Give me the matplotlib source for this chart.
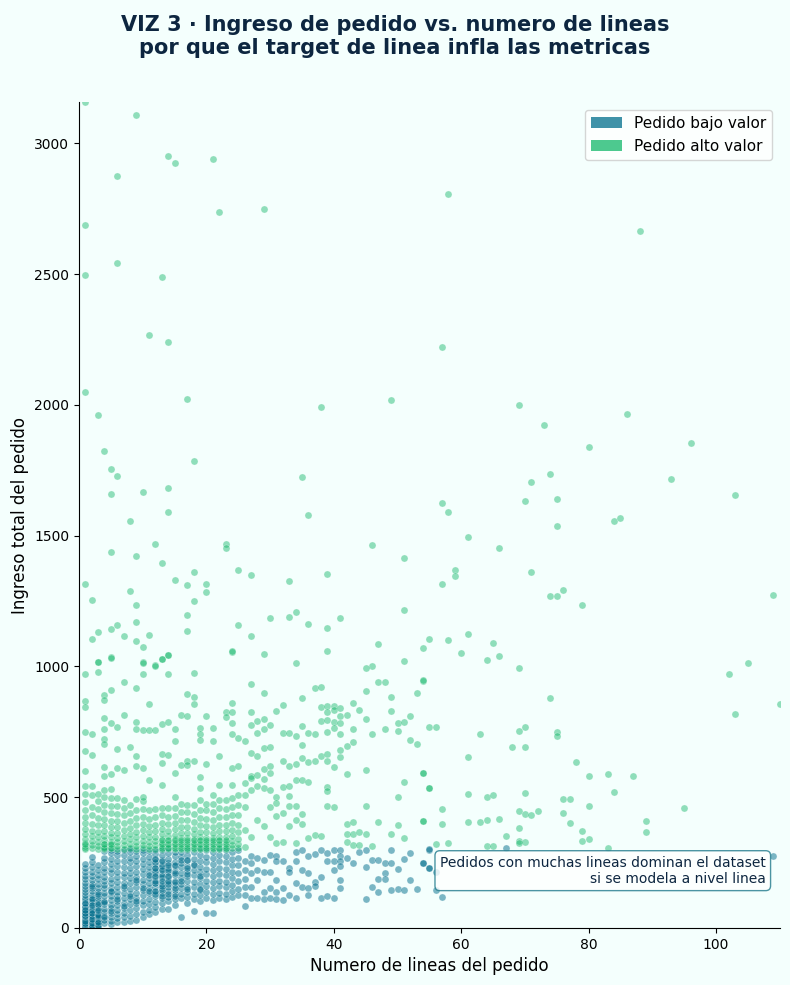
import numpy as np
import matplotlib.pyplot as plt
from matplotlib.patches import Patch

# pedidos de bajo valor: columnas densas (x = numero de lineas)
low_cols = list(range(1, 26))
low_vals = [
    [4, 8, 12, 16, 20, 25, 30, 35, 40, 46, 52, 58, 65, 72, 80, 88, 96, 105, 115, 125, 136, 148, 160, 172, 186, 200, 215, 230, 245, 10, 22, 33, 48, 62, 78, 95, 3, 6, 14, 18, 27, 44, 56, 68],
    [5, 9, 14, 19, 24, 30, 36, 43, 50, 58, 66, 75, 84, 94, 104, 115, 127, 140, 153, 167, 182, 198, 214, 232, 252, 272, 12, 28, 45, 70, 110, 160, 3, 7, 17, 33, 55, 88],
    [8, 14, 20, 27, 35, 44, 54, 64, 75, 86, 98, 110, 123, 137, 152, 168, 185, 203, 222, 242, 18, 40, 90, 130, 5, 11, 24, 50, 70],
    [18, 30, 45, 61, 74, 92, 104, 121, 133, 152, 163, 181, 195, 214, 228, 251, 268, 293, 40, 100],
    [14, 28, 43, 57, 75, 88, 107, 121, 139, 154, 173, 188, 209, 225, 246, 263, 286, 299, 65, 142],
    [21, 36, 53, 67, 86, 101, 121, 137, 157, 174, 195, 213, 235, 254, 277, 295, 112],
    [24, 41, 57, 77, 94, 115, 132, 153, 171, 193, 211, 234, 254, 279, 297, 82, 161],
    [26, 46, 69, 91, 109, 131, 149, 171, 189, 211, 229, 251, 269, 291, 300, 122],
    [31, 54, 76, 94, 116, 134, 156, 174, 196, 214, 236, 254, 276, 294, 101, 182],
    [42, 61, 86, 104, 126, 144, 166, 184, 206, 224, 246, 264, 286, 299, 151],
    [52, 69, 93, 111, 133, 151, 173, 191, 213, 231, 253, 271, 293, 141, 201],
    [61, 81, 99, 121, 137, 157, 173, 193, 209, 229, 245, 265, 281, 298, 131, 171, 216, 251, 140, 180, 200, 230, 265],
    [72, 94, 116, 133, 153, 169, 189, 205, 225, 241, 261, 277, 296, 146, 199, 236, 120, 160, 180, 220, 255],
    [74, 101, 119, 141, 157, 177, 193, 213, 229, 249, 265, 285, 300, 166, 221, 130, 180, 200, 240],
    [86, 109, 129, 145, 165, 181, 201, 217, 237, 253, 273, 289, 151, 241, 120, 175, 210],
    [43, 113, 129, 151, 169, 191, 209, 231, 249, 271, 289, 181, 259],
    [96, 117, 139, 157, 179, 197, 219, 237, 259, 277, 298, 206, 150, 230, 260],
    [63, 111, 131, 156, 177, 201, 221, 245, 265, 289, 239],
    [104, 126, 144, 169, 189, 213, 233, 257, 277, 300, 150, 200],
    [58, 116, 137, 161, 181, 206, 227, 251, 271, 296],
    [56, 107, 131, 151, 176, 197, 221, 244, 269, 291],
    [113, 134, 159, 179, 206, 229, 256, 279, 300],
    [111, 129, 156, 177, 203, 225, 251, 274, 298],
    [117, 141, 164, 191, 214, 241, 264, 291],
    [126, 149, 181, 209, 241, 269, 296],
]

# pedidos de bajo valor con muchas lineas
low_far_x = [26, 26, 26, 26, 26, 26, 27, 27, 27, 27, 27, 28, 28, 28, 28, 29, 29, 29, 29,
             30, 30, 30, 30, 31, 31, 31, 31, 31, 32, 32, 32, 33, 33, 33, 34, 34, 34, 34,
             35, 35, 35, 36, 36, 36, 36, 37, 37, 37, 38, 38, 38, 39, 39, 39, 40, 40, 40, 40,
             41, 41, 41, 41, 41, 41, 42, 43, 44, 45, 45, 45, 46, 46, 47, 47, 47, 48, 48, 48,
             49, 49, 49, 50, 50, 51, 51, 52, 52, 53, 54, 55, 55, 54, 55, 55, 56, 56, 57, 67, 109]
low_far_y = [254, 222, 186, 158, 126, 82, 273, 247, 209, 158, 113, 266, 222, 184, 113, 260, 215, 139, 110,
             279, 215, 152, 113, 273, 254, 184, 139, 110, 254, 152, 107, 228, 215, 126, 289, 254, 171, 113,
             296, 222, 158, 273, 209, 152, 126, 283, 177, 161, 296, 194, 113, 286, 254, 120, 296, 254, 222, 113,
             298, 273, 254, 235, 184, 152, 266, 250, 289, 298, 232, 110, 260, 156, 260, 186, 138, 250, 209, 186,
             296, 250, 143, 224, 150, 262, 143, 286, 184, 147, 250, 298, 228, 249, 301, 228, 212, 143, 117, 305, 276]

# pedidos de alto valor: banda densa sobre el umbral
high_cols = list(range(1, 26))
high_vals = [
    [302, 312, 325, 340, 358, 378, 400, 425, 452, 481, 511, 541, 305, 320],
    [305, 318, 332, 350, 372, 398, 430, 462, 510, 541],
    [303, 315, 330, 348, 368, 392, 420, 455, 485, 511],
    [301, 310, 322, 336, 352, 370, 392, 418, 445, 471, 502, 528, 305, 320],
    [304, 316, 330, 346, 364, 385, 410, 438, 468, 498, 530, 305, 320],
    [302, 314, 328, 344, 362, 384, 410, 436, 465, 495],
    [303, 317, 333, 352, 374, 400, 430, 460, 490],
    [305, 320, 338, 358, 382, 410, 440, 470],
    [302, 315, 330, 348, 368, 392, 420, 452, 493],
    [304, 318, 334, 352, 373, 398, 425, 455, 485, 502],
    [301, 314, 329, 346, 366, 390, 418, 450],
    [303, 316, 331, 349, 370, 395, 424, 456],
    [302, 313, 326, 341, 358, 378, 402, 430, 460, 547, 305, 320, 335],
    [304, 317, 332, 350, 371, 396, 425, 458, 305, 320, 335],
    [301, 312, 325, 340, 357, 377, 400, 428, 460, 502, 305, 320, 335],
    [303, 315, 329, 345, 364, 387, 414, 445, 475, 305, 320, 335],
    [302, 314, 328, 344, 363, 386, 413, 444, 470, 305, 320, 335],
    [301, 312, 325, 340, 358, 380, 405, 435, 470, 305, 320, 335],
    [303, 316, 331, 348, 368, 392, 420, 452, 489, 534, 305, 320, 335],
    [302, 314, 328, 345, 365, 389, 417, 450, 475, 305, 320, 335],
    [301, 313, 327, 343, 362, 385, 412, 443, 475, 509, 305, 320, 335],
    [303, 316, 331, 349, 370, 395, 424, 458, 490, 547, 305, 320, 335],
    [302, 315, 330, 348, 369, 394, 423, 456, 490, 305, 320, 335],
    [304, 318, 334, 353, 375, 401, 430, 462, 496, 547],
    [305, 320, 340, 365, 395, 430, 470, 510],
]

# pedidos de alto valor dispersos
high_x = [1, 1, 1, 1, 1, 1, 2, 2, 3, 3, 4, 4, 4, 4, 4, 4, 4, 4, 5, 5, 5, 5, 6, 6, 6, 7, 7, 7,
          8, 9, 9, 9, 9, 9, 10, 10, 10, 10, 11, 11, 11, 12, 12, 13, 13, 13, 13, 14, 14, 14, 14,
          15, 15, 15, 16, 16, 17, 17, 17, 17, 18, 18, 18, 18, 19, 19, 19, 19, 20, 20, 21, 21,
          22, 23, 23, 24, 24, 24, 24, 24, 24, 25, 25, 26, 27, 27, 27, 27, 27, 27,
          26, 26, 26, 26, 26, 27, 27, 28, 28, 28, 28, 28, 28, 29, 29, 29, 29, 29, 29, 29, 29,
          30, 30, 30, 30, 30, 30, 30, 31, 31, 31, 31, 31, 32, 32, 32, 32, 32, 32,
          33, 33, 33, 33, 33, 33, 34, 34, 34, 34, 34, 34, 35, 35, 35, 35, 35, 35, 35,
          36, 36, 36, 36, 37, 37, 37, 37, 38, 38, 38, 38, 38, 39, 39, 39, 39, 39, 39, 39, 39, 39,
          40, 40, 40, 40, 40, 40, 41, 41, 41, 41, 41, 41, 42, 42, 42, 42, 42, 42,
          43, 43, 43, 43, 43, 43, 44, 44, 44, 45, 45, 45, 45, 45, 46, 46, 47, 47, 48, 48,
          49, 49, 49, 50, 50, 50, 50, 51, 51, 51, 52, 52, 53, 53, 54, 54, 54, 55, 55]
high_y = [972, 866, 844, 751, 677, 600, 741, 662, 1015, 977, 892, 873, 802, 761, 722, 702, 617, 579,
          1036, 908, 785, 589, 770, 686, 610, 940, 815, 602, 691, 917, 789, 759, 659, 619,
          1015, 972, 755, 610, 856, 755, 566, 1004, 755, 1027, 780, 665, 630, 1044, 971, 789, 662,
          761, 716, 592, 815, 623, 895, 811, 640, 623, 975, 883, 857, 640, 764, 742, 717, 576,
          811, 627, 766, 713, 658, 824, 808, 1057, 861, 826, 785, 742, 610, 726, 619, 509, 932, 825, 774, 669, 579, 528,
          713, 553, 464, 375, 311, 573, 349, 745, 658, 585, 543, 413, 790, 900, 798, 760, 687, 607, 570, 534, 388,
          774, 620, 594, 528, 464, 349, 690, 830, 500, 477, 426, 324, 851, 745, 639, 538, 439, 328,
          745, 620, 541, 506, 467, 388, 735, 627, 566, 467, 413, 324, 879, 773, 649, 566, 435, 398, 700,
          747, 636, 557, 343, 917, 742, 639, 356, 921, 844, 793, 658, 350, 850, 825, 796, 751, 666, 640, 538, 525, 468,
          850, 832, 787, 764, 617, 464, 842, 812, 783, 742, 653, 681, 816, 694, 589, 398, 360, 330,
          860, 760, 709, 404, 358, 318, 834, 368, 318, 907, 800, 605, 468, 360, 741, 314, 939, 404, 939, 760,
          883, 828, 360, 783, 754, 502, 392, 786, 559, 343, 812, 719, 900, 704, 945, 592, 407, 770, 534]

high_far_x = [1, 9, 14, 15, 21, 6, 22, 29, 1, 6, 1, 13, 11, 14, 1, 17, 38, 49, 3,
              58, 88, 57, 69, 86, 73, 4, 18, 5, 6, 5, 10, 14, 35, 36, 14, 8, 12, 23, 23, 5, 9,
              46, 51, 13, 18, 25, 27, 39, 1, 15, 17, 20, 20, 33, 8, 2, 18, 9, 17, 9, 51, 30, 33, 34,
              41, 25, 36, 39, 3, 5, 6, 17, 2, 7, 11, 27, 9, 10, 47, 54, 55, 24, 29, 39, 3, 5, 10,
              12, 13, 14, 34, 46, 51, 45,
              80, 96, 74, 71, 93, 103, 57, 58, 70, 75, 84, 85, 75, 61, 66, 59, 59, 57, 71, 76, 74,
              75, 79, 109, 58, 61, 65, 60, 64, 66, 69, 105, 102, 103, 110, 54, 74, 56, 63, 69, 70,
              75, 75, 68, 70, 61, 78, 54, 80, 83, 87, 55, 61, 64, 65, 70, 84, 76, 77, 57, 69, 70,
              71, 72, 76, 80, 95, 54, 57, 61, 63, 64, 66, 69, 77, 89, 89, 79, 79, 80, 56, 58, 64,
              65, 67, 69, 69, 70, 83]
high_far_y = [3160, 3109, 2951, 2925, 2940, 2876, 2739, 2748, 2687, 2542, 2498, 2489, 2266, 2241, 2049, 2022, 1993, 2019, 1962,
              2808, 2664, 2222, 2001, 1967, 1925, 1823, 1785, 1754, 1730, 1661, 1667, 1683, 1723, 1579, 1591, 1555, 1470, 1468, 1451, 1438, 1421,
              1465, 1413, 1396, 1360, 1370, 1351, 1355, 1316, 1329, 1310, 1314, 1283, 1325, 1287, 1253, 1249, 1236, 1195, 1168, 1214, 1187, 1190, 1210,
              1187, 1158, 1161, 1148, 1132, 1143, 1157, 1134, 1103, 1117, 1119, 1117, 1097, 1074, 1086, 1069, 1105, 1059, 1047, 1059, 1015, 1034, 1014,
              1003, 1027, 1045, 1014, 1002, 1019, 995,
              1841, 1855, 1735, 1707, 1718, 1656, 1625, 1591, 1633, 1639, 1555, 1566, 1536, 1494, 1454, 1370, 1344, 1316, 1360, 1294, 1268,
              1268, 1235, 1273, 1100, 1124, 1091, 1051, 1024, 1040, 995, 1013, 972, 819, 858, 949, 880, 769, 740, 754, 769,
              748, 732, 690, 690, 652, 634, 593, 582, 589, 582, 535, 512, 499, 509, 515, 518, 494, 492, 454, 448, 436,
              430, 448, 440, 466, 458, 408, 399, 404, 404, 411, 417, 383, 401, 410, 366, 370, 333, 338, 320, 325, 314,
              314, 352, 333, 325, 328, 305]

COL_LOW = '#006e8c'
COL_HIGH = '#12b76a'
BG = '#f4fffd'
NAVY = '#0d2640'

low_x = np.repeat(low_cols, [len(v) for v in low_vals])
low_y = np.concatenate([np.array(v, float) for v in low_vals])
low_x = np.concatenate([low_x, low_far_x])
low_y = np.concatenate([low_y, low_far_y])

hx = np.repeat(high_cols, [len(v) for v in high_vals])
hy = np.concatenate([np.array(v, float) for v in high_vals])
hx = np.concatenate([hx, high_x, high_far_x])
hy = np.concatenate([hy, high_y, high_far_y])

fig = plt.figure(figsize=(7.9, 9.85), dpi=100, facecolor=BG)
ax = fig.add_axes([0.1, 0.058, 0.887, 0.838])
ax.set_facecolor(BG)

ax.scatter(low_x, low_y, s=26, color=COL_LOW, alpha=0.5, edgecolors='white', linewidths=0.4)
ax.scatter(hx, hy, s=26, color=COL_HIGH, alpha=0.45, edgecolors='white', linewidths=0.4)

ax.set_xlim(0, 110)
ax.set_ylim(0, 3157)
ax.set_xticks([0, 20, 40, 60, 80, 100])
ax.set_yticks([0, 500, 1000, 1500, 2000, 2500, 3000])
ax.tick_params(labelsize=10)
ax.spines['top'].set_visible(False)
ax.spines['right'].set_visible(False)
ax.set_xlabel('Numero de lineas del pedido', fontsize=12)
ax.set_ylabel('Ingreso total del pedido', fontsize=12)

handles = [Patch(facecolor=COL_LOW, alpha=0.75, label='Pedido bajo valor'),
           Patch(facecolor=COL_HIGH, alpha=0.75, label='Pedido alto valor')]
ax.legend(handles=handles, loc='upper right', fontsize=11, framealpha=0.8)

ax.text(0.98, 0.051, 'Pedidos con muchas lineas dominan el dataset\nsi se modela a nivel linea',
        transform=ax.transAxes, ha='right', va='bottom', multialignment='right',
        fontsize=10, color=NAVY,
        bbox=dict(boxstyle='round,pad=0.35', facecolor='white', alpha=0.8, edgecolor='#1f7a8c'))

fig.suptitle('VIZ 3 · Ingreso de pedido vs. numero de lineas\npor que el target de linea infla las metricas',
             fontsize=15, fontweight='bold', color=NAVY, y=0.985)

fig.savefig('out.png', dpi=100, facecolor=BG)
